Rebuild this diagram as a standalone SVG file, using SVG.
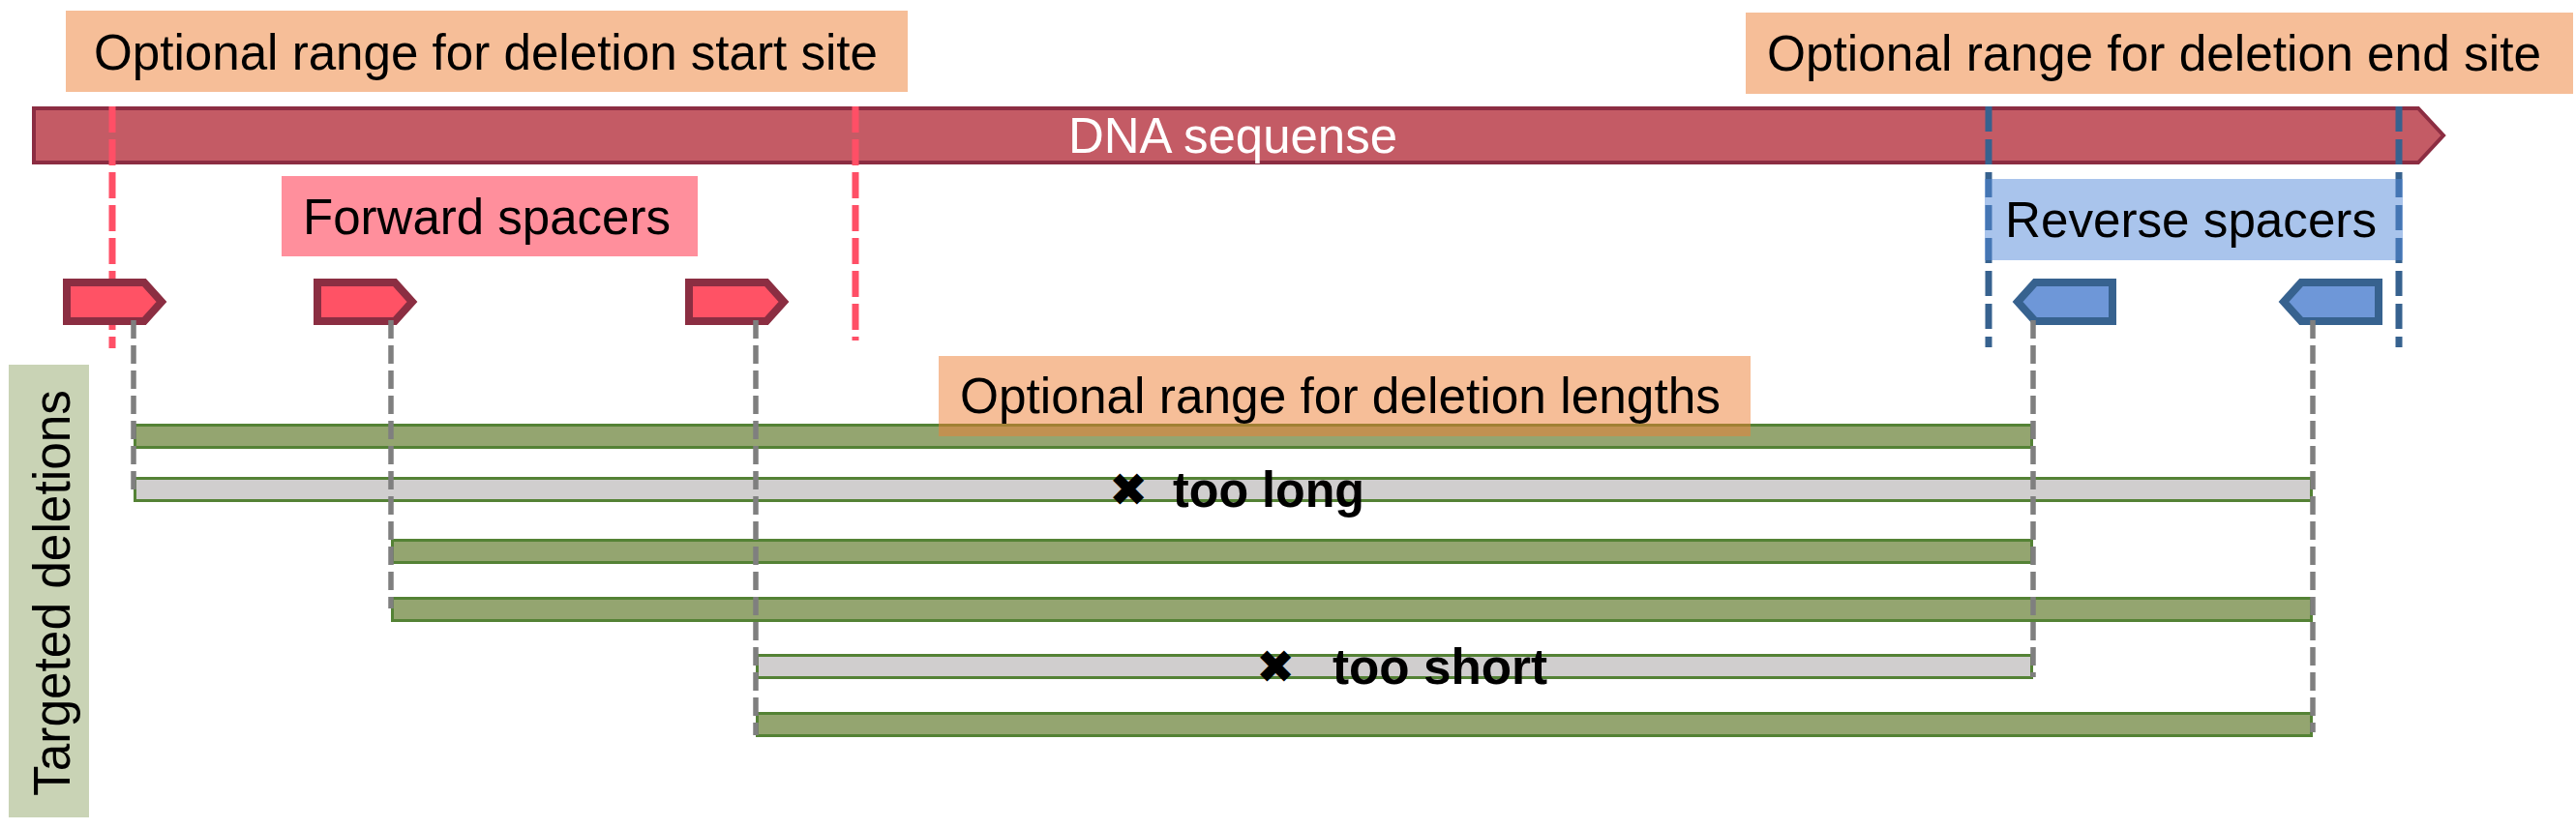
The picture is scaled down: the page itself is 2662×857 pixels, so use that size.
<svg xmlns="http://www.w3.org/2000/svg" xmlns:xlink="http://www.w3.org/1999/xlink" width="2662" height="857" viewBox="0 0 2662 857">
<defs>
<style>
text{font-family:"Liberation Sans",Arial,sans-serif;}
.lbl{font-size:52px;fill:#000;}
.orange{fill:#ED7D31;fill-opacity:0.5;}
.fwdbox{fill:#FF2039;fill-opacity:0.5;}
.revbox{fill:#5389D9;fill-opacity:0.5;}
.fwd{fill:#FF5265;stroke:#8B2E42;stroke-width:8;stroke-linejoin:miter;}
.rev{fill:#6E97D8;stroke:#37628F;stroke-width:8;stroke-linejoin:miter;}
.reddash{stroke:#FF4F66;stroke-width:7;stroke-dasharray:27 7;fill:none;}
.bluedash{stroke:#37628F;stroke-width:7;stroke-dasharray:26 8;fill:none;}
.conn{stroke:#7F7F7F;stroke-width:5.5;stroke-dasharray:19 7;fill:none;}
.ok{fill:#94A570;stroke:#548235;stroke-width:3;}
.bad{fill:#D0CECE;stroke:#548235;stroke-width:3;}
.mark{font-family:"DejaVu Sans",sans-serif;font-weight:bold;font-size:48px;}
.note{font-weight:bold;font-size:52px;}
</style>
<path id="fwdShape" d="M4,4 H84 L102,24 L84,44 H4 Z"/>
<path id="revShape" d="M104,4 H24 L6,24 L24,44 H104 Z"/>
</defs>

<g id="dna">
<path d="M35,112 H2499 L2525,140 L2499,168 H35 Z" fill="#C45B65" stroke="#8C2D42" stroke-width="4"/>
<text x="1274" y="158" text-anchor="middle" font-size="52" fill="#FFFFFF" textLength="340" lengthAdjust="spacingAndGlyphs">DNA sequense</text>
</g>

<g id="range-lines">
<line class="reddash" x1="116" y1="110" x2="116" y2="360"/>
<line class="reddash" x1="884" y1="110" x2="884" y2="352"/>
<line class="bluedash" x1="2055" y1="110" x2="2055" y2="359"/>
<line class="bluedash" x1="2479" y1="110" x2="2479" y2="359"/>
</g>

<g id="start-range-label">
<rect class="orange" x="68" y="11" width="870" height="84"/>
<text class="lbl" x="97" y="72" textLength="810" lengthAdjust="spacingAndGlyphs">Optional range for deletion start site</text>
</g>

<g id="end-range-label">
<rect class="orange" x="1804" y="13" width="855" height="84"/>
<text class="lbl" x="1826" y="73" textLength="800" lengthAdjust="spacingAndGlyphs">Optional range for deletion end site</text>
</g>

<g id="forward-label">
<rect class="fwdbox" x="291" y="182" width="430" height="83"/>
<text class="lbl" x="313" y="242" textLength="380" lengthAdjust="spacingAndGlyphs">Forward spacers</text>
</g>

<g id="reverse-label">
<rect class="revbox" x="2051" y="185" width="432" height="84"/>
<text class="lbl" x="2072" y="245" textLength="384" lengthAdjust="spacingAndGlyphs">Reverse spacers</text>
</g>

<g id="fwd-spacer-1"><use xlink:href="#fwdShape" class="fwd" transform="translate(65,288)"/></g>
<g id="fwd-spacer-2"><use xlink:href="#fwdShape" class="fwd" transform="translate(324,288)"/></g>
<g id="fwd-spacer-3"><use xlink:href="#fwdShape" class="fwd" transform="translate(708,288)"/></g>
<g id="rev-spacer-1"><use xlink:href="#revShape" class="rev" transform="translate(2079,288)"/></g>
<g id="rev-spacer-2"><use xlink:href="#revShape" class="rev" transform="translate(2354,288)"/></g>

<g id="targeted-label">
<rect x="9" y="377" width="83" height="468" fill="#C9D3B5"/>
<text x="0" y="0" font-size="54" transform="translate(72,823) rotate(-90)" textLength="420" lengthAdjust="spacingAndGlyphs">Targeted deletions</text>
</g>

<g id="deletion-1"><rect class="ok" x="139.5" y="439.5" width="1960" height="23"/></g>
<g id="deletion-2"><rect class="bad" x="139.5" y="494.5" width="2249" height="23"/></g>
<g id="deletion-3"><rect class="ok" x="405.5" y="558.5" width="1694" height="23"/></g>
<g id="deletion-4"><rect class="ok" x="405.5" y="618.5" width="1983" height="23"/></g>
<g id="deletion-5"><rect class="bad" x="782.5" y="677.5" width="1317" height="23"/></g>
<g id="deletion-6"><rect class="ok" x="782.5" y="737.5" width="1606" height="23"/></g>

<g id="length-range-label">
<rect class="orange" x="970" y="368" width="839" height="83"/>
<text class="lbl" x="992" y="427" textLength="786" lengthAdjust="spacingAndGlyphs">Optional range for deletion lengths</text>
</g>

<g id="connectors">
<line class="conn" x1="138" y1="331" x2="138" y2="506"/>
<line class="conn" x1="404" y1="331" x2="404" y2="629"/>
<line class="conn" x1="781" y1="331" x2="781" y2="760"/>
<line class="conn" x1="2101" y1="331" x2="2101" y2="700"/>
<line class="conn" x1="2390" y1="331" x2="2390" y2="757"/>
</g>

<g id="too-long">
<text class="mark" x="1146" y="523">✖</text>
<text class="note" x="1212" y="524" textLength="198" lengthAdjust="spacingAndGlyphs">too long</text>
</g>

<g id="too-short">
<text class="mark" x="1298" y="706">✖</text>
<text class="note" x="1377" y="707" textLength="222" lengthAdjust="spacingAndGlyphs">too short</text>
</g>
</svg>
